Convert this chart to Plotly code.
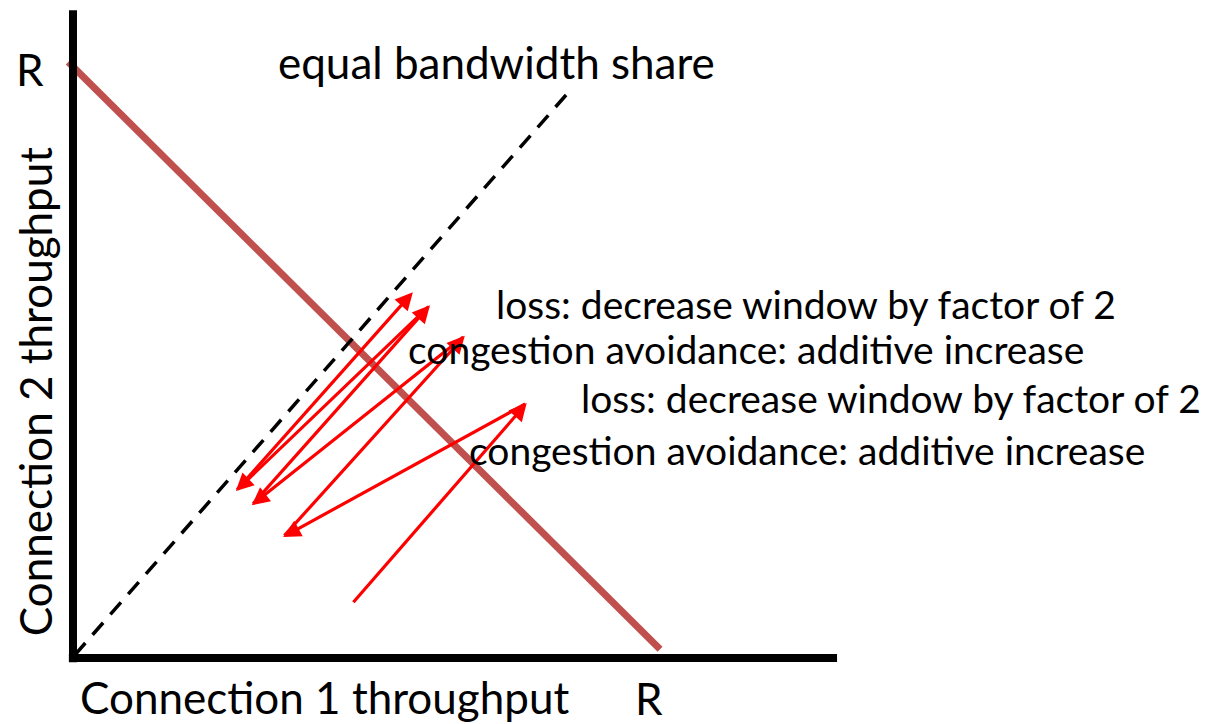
import plotly.graph_objects as go

# ---- data (units: R = 1 on each axis) ----
capacity_x = [-0.008, 0.995]          # full-utilisation line x + y = R
capacity_y = [1.010, 0.015]
fair_x = [0.003, 0.839]               # equal bandwidth share line
fair_y = [0.005, 0.958]
# AIMD trajectory (throughput of connection 1, connection 2)
traj_x = [0.473, 0.769, 0.356, 0.664, 0.303, 0.605, 0.276, 0.576]
traj_y = [0.092, 0.432, 0.205, 0.546, 0.259, 0.598, 0.283, 0.620]

step_labels = [
    "loss: decrease window by factor of 2",
    "congestion avoidance: additive increase",
    "loss: decrease window by factor of 2",
    "congestion avoidance: additive increase",
]
step_label_x = [1.242, 1.140, 1.386, 1.244]
step_label_y = [0.600, 0.524, 0.441, 0.353]

FONT = "Lato"
K = 590.0  # pixels per unit
X0, Y0 = 73.0, 658.0
W, H = 1208, 724

fig = go.Figure()

# capacity line
fig.add_trace(go.Scatter(x=capacity_x, y=capacity_y, mode="lines",
                         line=dict(color="#C0504D", width=7),
                         hoverinfo="skip", showlegend=False))
# equal share line
fig.add_trace(go.Scatter(x=fair_x, y=fair_y, mode="lines",
                         line=dict(color="black", width=3.5, dash="16px,11px"),
                         hoverinfo="skip", showlegend=False))

# axis lines
fig.add_shape(type="line", x0=0, x1=0, y0=-0.007, y1=1.098,
              line=dict(color="black", width=8))
fig.add_shape(type="line", x0=-0.007, x1=1.295, y0=0, y1=0,
              line=dict(color="black", width=8))

annotations = []
# trajectory arrows
for i in range(len(traj_x) - 1):
    annotations.append(dict(
        x=traj_x[i + 1], y=traj_y[i + 1], ax=traj_x[i], ay=traj_y[i],
        xref="x", yref="y", axref="x", ayref="y",
        text="", showarrow=True, arrowhead=2, arrowsize=1.1,
        arrowwidth=3.2, arrowcolor="#FF0000", standoff=0, startstandoff=0))

# step labels
for t, x, y in zip(step_labels, step_label_x, step_label_y):
    annotations.append(dict(x=x, y=y, xref="x", yref="y", text=t,
                            showarrow=False, xanchor="center", yanchor="middle",
                            font=dict(family=FONT, size=39, color="black")))

annotations += [
    dict(x=0.717, y=1.010, xref="x", yref="y", text="equal bandwidth share",
         showarrow=False, xanchor="center", yanchor="middle",
         font=dict(family=FONT, size=44, color="black")),
    dict(x=-0.073, y=0.998, xref="x", yref="y", text="R",
         showarrow=False, xanchor="center", yanchor="middle",
         font=dict(family=FONT, size=44, color="black")),
    dict(x=0.976, y=-0.067, xref="x", yref="y", text="R",
         showarrow=False, xanchor="center", yanchor="middle",
         font=dict(family=FONT, size=44, color="black")),
    dict(x=0.427, y=-0.066, xref="x", yref="y", text="Connection 1 throughput",
         showarrow=False, xanchor="center", yanchor="middle",
         font=dict(family=FONT, size=44, color="black")),
    dict(x=-0.064, y=0.451, xref="x", yref="y", text="Connection 2 throughput",
         showarrow=False, xanchor="center", yanchor="middle", textangle=-90,
         font=dict(family=FONT, size=44, color="black")),
]

fig.update_layout(
    width=W, height=H,
    margin=dict(l=0, r=0, t=0, b=0),
    paper_bgcolor="white", plot_bgcolor="white",
    xaxis=dict(range=[-X0 / K, (W - X0) / K], visible=False, fixedrange=True),
    yaxis=dict(range=[(Y0 - H) / K, Y0 / K], visible=False, fixedrange=True),
    annotations=annotations,
    showlegend=False,
)

fig.write_html(
    "out.html",
    config={"displayModeBar": False},
    post_script="document.body.style.margin='0';document.body.style.overflow='hidden';",
)
